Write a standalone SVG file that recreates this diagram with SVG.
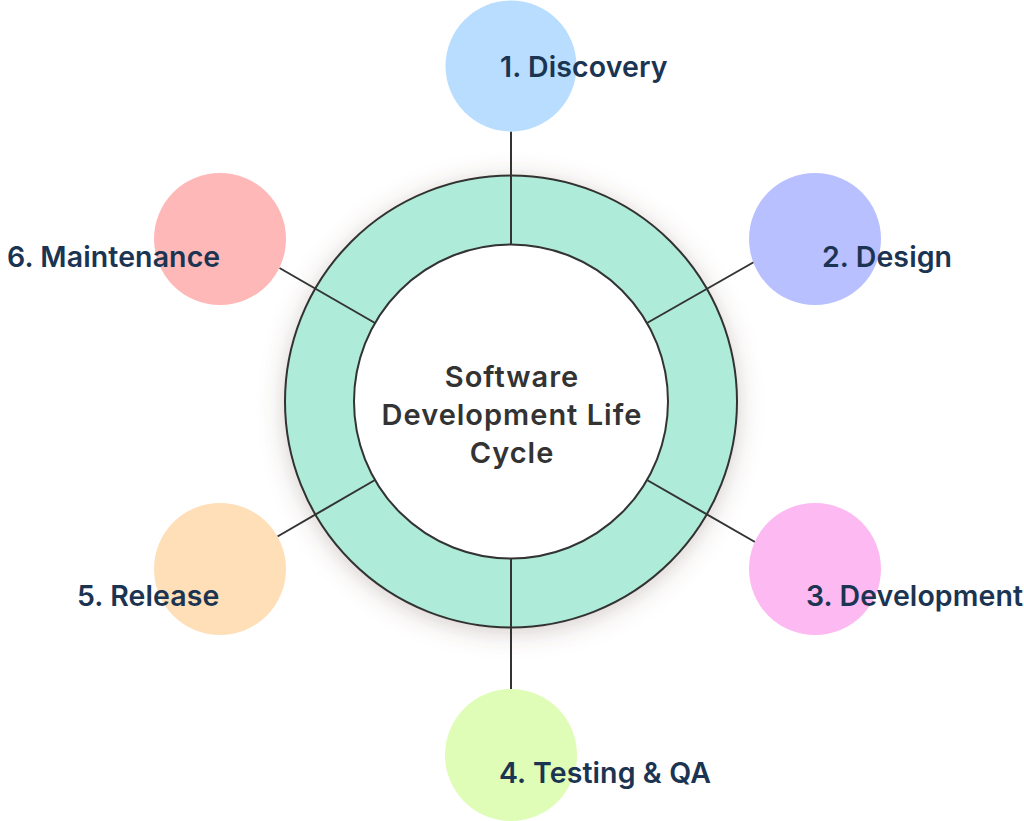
<svg xmlns="http://www.w3.org/2000/svg" width="1024" height="821" viewBox="0 0 1024 821">
  <defs>
    <filter id="shadow" x="-20%" y="-20%" width="140%" height="140%">
      <feDropShadow dx="0" dy="4" stdDeviation="12" flood-color="#6b4a40" flood-opacity="0.28"/>
    </filter>
  </defs>
  <style>
    .ring { fill: #aeebd8; stroke: #333333; stroke-width: 2; }
    .inner { fill: #ffffff; stroke: #333333; stroke-width: 2; }
    .conn { stroke: #333333; stroke-width: 2; fill: none; }
    .label { font-family: Inter, "Noto Sans", "Liberation Sans", sans-serif; font-size: 28.5px; font-weight: 600; fill: #1b3452; letter-spacing: 0.1px; }
    .center { font-family: Inter, "Noto Sans", "Liberation Sans", sans-serif; font-size: 29px; font-weight: 600; fill: #333333; text-anchor: middle; letter-spacing: 1px; }
  </style>
  <rect width="1024" height="821" fill="#ffffff"/>

  <g id="hub">
    <circle class="ring" cx="511" cy="401.5" r="226" filter="url(#shadow)"/>
    <circle class="inner" cx="511" cy="401.5" r="157"/>
  </g>

  <g id="connectors">
    <line class="conn" x1="511" y1="131.5" x2="511" y2="244.5"/>
    <line class="conn" x1="647" y1="323" x2="754" y2="262"/>
    <line class="conn" x1="647" y1="480" x2="755" y2="542"/>
    <line class="conn" x1="511" y1="558.5" x2="511" y2="689"/>
    <line class="conn" x1="375" y1="480" x2="277.5" y2="536.5"/>
    <line class="conn" x1="375" y1="323" x2="279.5" y2="268"/>
  </g>

  <g id="center-label">
    <text class="center" x="512" y="387">Software</text>
    <text class="center" x="512" y="425">Development Life</text>
    <text class="center" x="512" y="463">Cycle</text>
  </g>

  <g id="node-discovery">
    <circle cx="511" cy="66" r="65.5" fill="#b8ddfe"/>
    <text class="label" x="500" y="77">1. Discovery</text>
  </g>
  <g id="node-design">
    <circle cx="815" cy="239" r="66" fill="#b8c0ff"/>
    <text class="label" x="822" y="267">2. Design</text>
  </g>
  <g id="node-development">
    <circle cx="815" cy="569" r="66" fill="#fdb9f1"/>
    <text class="label" x="806" y="606">3. Development</text>
  </g>
  <g id="node-testing">
    <circle cx="511" cy="755" r="66" fill="#dffdb7"/>
    <text class="label" x="499" y="783">4. Testing &amp; QA</text>
  </g>
  <g id="node-release">
    <circle cx="220" cy="569" r="66" fill="#ffdfb8"/>
    <text class="label" x="77" y="606">5. Release</text>
  </g>
  <g id="node-maintenance">
    <circle cx="220" cy="239" r="66" fill="#ffb8b8"/>
    <text class="label" x="7" y="267">6. Maintenance</text>
  </g>
</svg>
